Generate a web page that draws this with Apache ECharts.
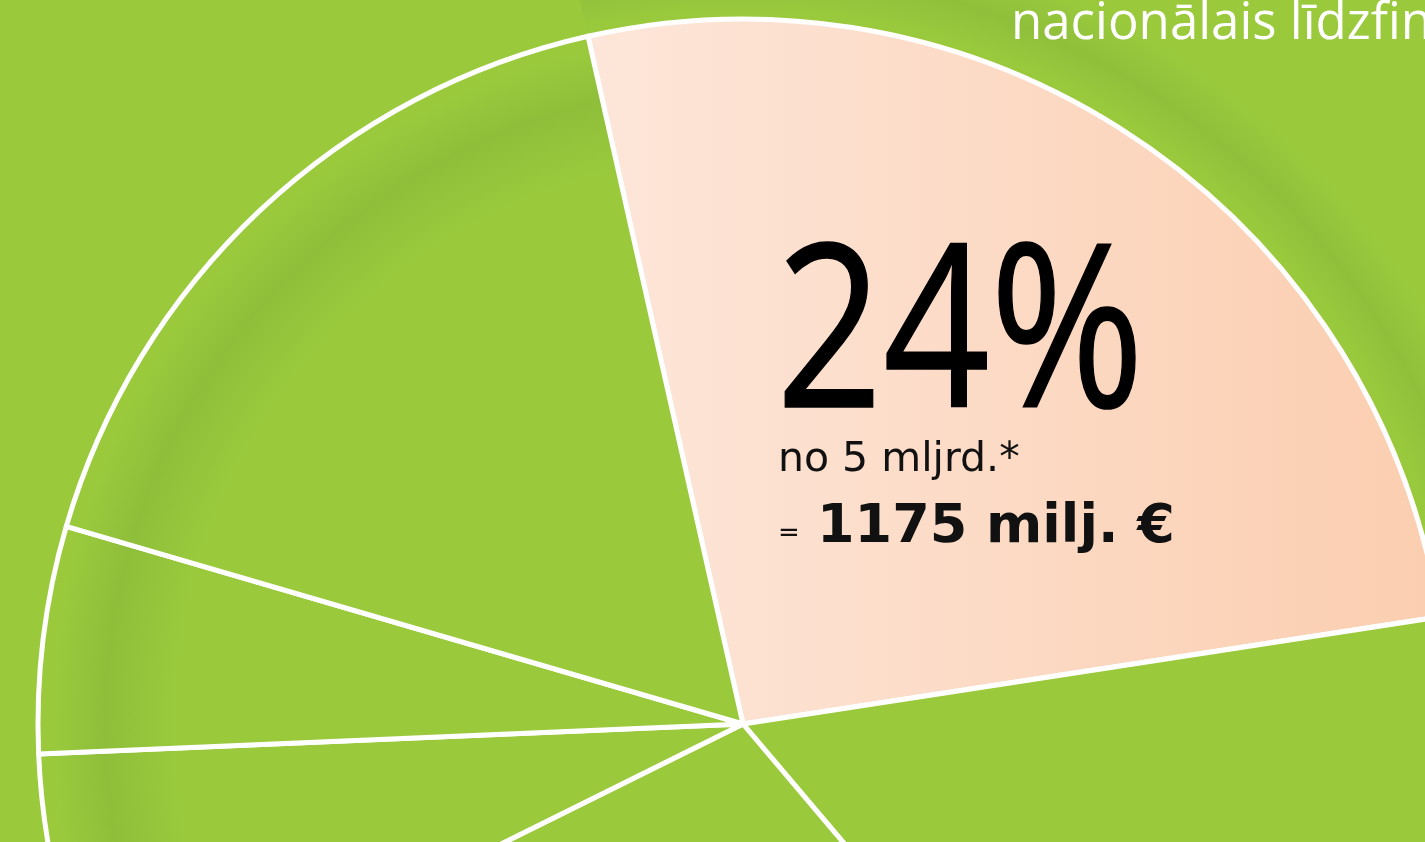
<!DOCTYPE html>
<html>
<head>
<meta charset="utf-8">
<script src="https://cdn.jsdelivr.net/npm/echarts@6/dist/echarts.min.js"></script>
<style>
  html, body { margin: 0; padding: 0; background: #9aca3c; }
  #main { width: 1425px; height: 842px; }
</style>
</head>
<body>
<div id="main"></div>
<script>
// slice shares (percent of the circle), first one is highlighted
const sliceNames = ['nacionālais līdzfinansējums', 'b', 'c', 'd', 'e', 'f'];
const sliceValues = [26.1, 16.25, 28.85, 6.65, 5.2, 16.95];
const bigLabel = '24%';
const subLabel = 'no 5 mljrd.*';
const sumLabel = '1175 milj. €';
const topLabel = 'nacionālais līdzfinansējums';

const chartDom = document.getElementById('main');
const myChart = echarts.init(chartDom);

const cx = 743, cy = 724, R = 705, Rglow = 800;
const base = '#9aca3c';

// darker ring just inside the rim of the green slices
const greenFill = {
  type: 'radial', x: cx, y: cy, r: R, global: true,
  colorStops: [
    { offset: 0, color: base },
    { offset: 0.80, color: base },
    { offset: 0.905, color: '#8fbf3a' },
    { offset: 0.985, color: base },
    { offset: 1, color: base }
  ]
};

// soft darker ring just outside the highlighted slice
const glowFill = {
  type: 'radial', x: cx, y: cy, r: Rglow, global: true,
  colorStops: [
    { offset: 0, color: base },
    { offset: 0.885, color: base },
    { offset: 0.94, color: '#90c03b' },
    { offset: 1, color: base }
  ]
};

const peachFill = {
  type: 'linear', x: 590, y: 0, x2: 1425, y2: 0, global: true,
  colorStops: [
    { offset: 0, color: '#fde6d9' },
    { offset: 1, color: '#fbceb0' }
  ]
};

const option = {
  backgroundColor: base,
  animation: false,
  series: [
    {
      type: 'pie',
      z: 1,
      center: [cx, cy],
      radius: [0, Rglow],
      startAngle: 102.7,
      silent: true,
      label: { show: false },
      labelLine: { show: false },
      itemStyle: { color: 'rgba(0,0,0,0)', borderWidth: 0 },
      data: sliceValues.map((v, i) => ({
        name: sliceNames[i],
        value: v,
        itemStyle: i === 0 ? { color: glowFill } : {}
      }))
    },
    {
      type: 'pie',
      z: 2,
      center: [cx, cy],
      radius: [0, R],
      startAngle: 102.7,
      clockwise: true,
      silent: true,
      label: { show: false },
      labelLine: { show: false },
      itemStyle: {
        color: greenFill,
        borderColor: '#ffffff',
        borderWidth: 5
      },
      data: sliceValues.map((v, i) => ({
        name: sliceNames[i],
        value: v,
        itemStyle: i === 0 ? { color: peachFill } : (i === 1 ? { color: base } : {})
      }))
    }
  ],
  graphic: [
    {
      type: 'text',
      z: 100,
      x: 1011,
      y: 24,
      style: {
        text: topLabel,
        fill: '#ffffff',
        font: '51px "Open Sans", sans-serif',
        verticalAlign: 'middle'
      }
    },
    {
      type: 'text',
      z: 100,
      x: 776,
      y: 342,
      scaleX: 0.82,
      style: {
        text: bigLabel,
        fill: '#000000',
        stroke: '#000000',
        lineWidth: 1.5,
        font: '228px "Open Sans", sans-serif',
        verticalAlign: 'middle'
      }
    },
    {
      type: 'text',
      z: 100,
      x: 778,
      y: 460,
      style: {
        text: subLabel,
        fill: '#111111',
        font: '41px "DejaVu Sans", sans-serif',
        verticalAlign: 'middle'
      }
    },
    {
      type: 'text',
      z: 100,
      x: 778,
      y: 534,
      style: {
        text: '=',
        fill: '#111111',
        font: '26px "DejaVu Sans", sans-serif',
        verticalAlign: 'middle'
      }
    },
    {
      type: 'text',
      z: 100,
      x: 817,
      y: 528,
      style: {
        text: sumLabel,
        fill: '#111111',
        font: 'bold 54px "DejaVu Sans", sans-serif',
        verticalAlign: 'middle'
      }
    }
  ]
};

myChart.setOption(option);
</script>
</body>
</html>
